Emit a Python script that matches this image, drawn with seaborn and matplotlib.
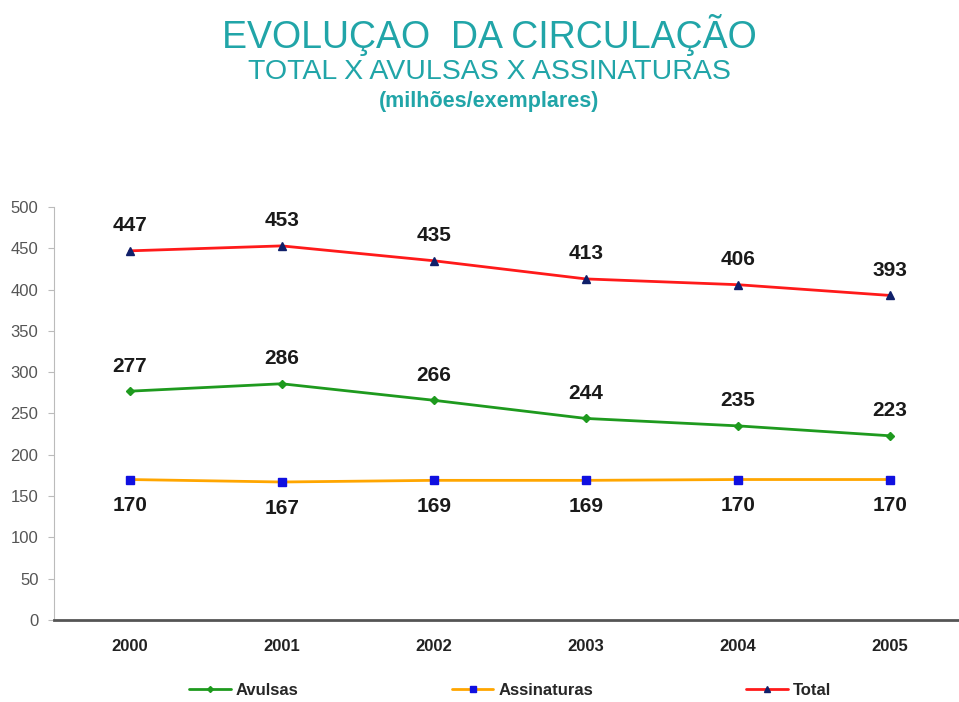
import numpy as np
import pandas as pd
import matplotlib
matplotlib.use("Agg")
import matplotlib.pyplot as plt
import seaborn as sns
from matplotlib.lines import Line2D

# Dados (milhões de exemplares)
anos = ["2000", "2001", "2002", "2003", "2004", "2005"]
avulsas = [277, 286, 266, 244, 235, 223]
assinaturas = [170, 167, 169, 169, 170, 170]
total = [447, 453, 435, 413, 406, 393]

series = ["Avulsas", "Assinaturas", "Total"]
cores_linha = {"Avulsas": "#1E9A1E", "Assinaturas": "#FFA600", "Total": "#FF1A1A"}
cores_marker = {"Avulsas": "#1E9A1E", "Assinaturas": "#1010E0", "Total": "#10206A"}
markers = {"Avulsas": "D", "Assinaturas": "s", "Total": "^"}
msize = {"Avulsas": 4, "Assinaturas": 6, "Total": 6}

df = pd.DataFrame({
    "ano": anos * 3,
    "pos": list(range(len(anos))) * 3,
    "valor": avulsas + assinaturas + total,
    "serie": ["Avulsas"] * 6 + ["Assinaturas"] * 6 + ["Total"] * 6,
})

sns.set_style("white")
plt.rcParams["font.family"] = ["Liberation Sans", "DejaVu Sans"]

fig = plt.figure(figsize=(9.59, 7.02), dpi=100)
ax = fig.add_axes([0.056, 0.117, 0.951, 0.588])

sns.lineplot(data=df, x="pos", y="valor", hue="serie", hue_order=series,
             palette=cores_linha, linewidth=2, legend=False, ax=ax)
for s in series:
    sub = df[df["serie"] == s]
    ax.plot(sub["pos"], sub["valor"], linestyle="none", marker=markers[s],
            markersize=msize[s], color=cores_marker[s], zorder=5)
    for p, v in zip(sub["pos"], sub["valor"]):
        dy = -19 if s == "Assinaturas" else 18
        ax.annotate(str(v), (p, v), xytext=(0, dy), textcoords="offset points",
                    ha="center", va="center", fontsize=15, fontweight="bold",
                    color="#1a1a1a")

ax.set_xlim(-0.5, len(anos) - 0.5)
ax.set_ylim(0, 500)
ax.set_yticks(np.arange(0, 501, 50))
ax.set_xticks(range(len(anos)))
ax.set_xticklabels(anos, fontsize=12, fontweight="bold", color="#222222")
ax.set_xticks(np.arange(-0.5, len(anos), 1), minor=True)
ax.tick_params(axis="x", which="major", length=0, pad=14)
ax.tick_params(axis="x", which="minor", length=4, color="#555555", direction="out")
ax.tick_params(axis="y", labelsize=12, labelcolor="#555555", length=4,
               color="#bbbbbb", left=True, pad=7)
ax.set_xlabel("")
ax.set_ylabel("")
for sp in ["top", "right"]:
    ax.spines[sp].set_visible(False)
ax.spines["left"].set_color("#bbbbbb")
ax.spines["bottom"].set_color("#555555")
ax.spines["bottom"].set_linewidth(2)

# legenda
handles = [Line2D([], [], color=cores_linha[s], linewidth=2, marker=markers[s],
                  markersize=msize[s] - 1, markerfacecolor=cores_marker[s],
                  markeredgecolor=cores_marker[s]) for s in series]
fig.legend(handles, series, loc="center", bbox_to_anchor=(0.532, 0.017), ncol=3,
           frameon=False, columnspacing=9.2, handlelength=2.5, handletextpad=0.3,
           prop={"weight": "bold", "size": 12})

teal = "#21A5A8"
fig.text(0.51, 0.95, "EVOLUÇAO  DA CIRCULAÇÃO", ha="center", va="center",
         fontsize=27, color=teal)
fig.text(0.51, 0.897, "TOTAL X AVULSAS X ASSINATURAS", ha="center", va="center",
         fontsize=20.5, color=teal)
fig.text(0.51, 0.855, "(milhões/exemplares)", ha="center", va="center",
         fontsize=15.5, fontweight="bold", color=teal)

fig.savefig("out.png", dpi=100)
